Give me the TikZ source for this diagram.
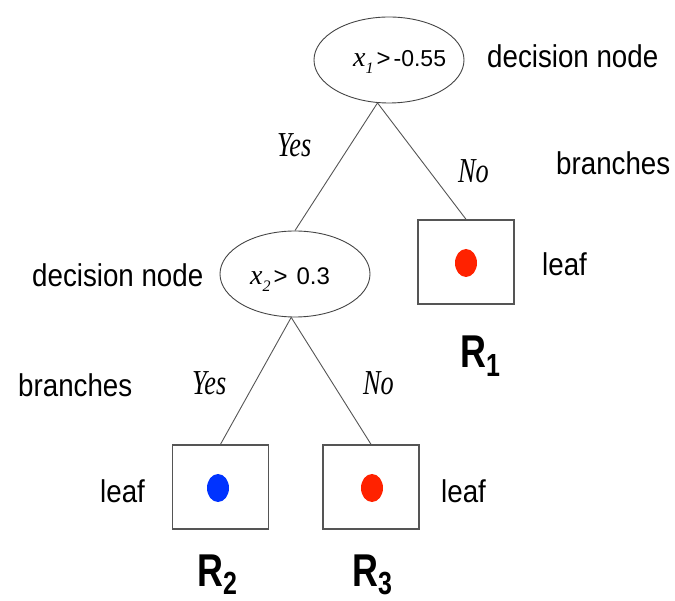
\documentclass[tikz,border=0pt]{standalone}
\usepackage{fontspec}
\usetikzlibrary{shapes.geometric}
\newfontfamily\lblfont{Liberation Sans}[FakeStretch=0.88]
\newfontfamily\plainsans{Liberation Sans}
\newfontfamily\rfont{Liberation Sans}[FakeStretch=0.78]
\newfontfamily\sitfont{Liberation Serif}[FakeStretch=0.75]
\newfontfamily\mathserif{Liberation Serif}
\definecolor{dotred}{HTML}{FF2200}
\definecolor{dotblue}{HTML}{0033FF}
\definecolor{edgegrey}{HTML}{555555}
\begin{document}
\begin{tikzpicture}[x=1pt,y=-1pt,
  lbl/.style={inner sep=0pt, anchor=base west, font=\lblfont\fontsize{31.5}{36}\selectfont},
  yn/.style={inner sep=0pt, anchor=base west, font=\sitfont\itshape\fontsize{35}{40}\selectfont},
  rlbl/.style={inner sep=0pt, anchor=base west, font=\rfont\bfseries\fontsize{46}{50}\selectfont},
  math/.style={inner sep=0pt, anchor=base west},
  decision/.style={ellipse, draw=edgegrey!80!black, line width=0.9pt, minimum width=150pt, minimum height=86pt, inner sep=0pt},
  leafbox/.style={rectangle, draw=edgegrey, line width=1.4pt, minimum width=96pt, minimum height=84pt, inner sep=0pt},
  dot/.style={ellipse, inner sep=0pt, minimum width=22pt, minimum height=28pt},
  branch/.style={draw=edgegrey, line width=0.9pt}
]
\useasboundingbox (0,0) rectangle (675,601);

% decision nodes
\node[decision] (d1) at (389,60) {};
\node[decision] (d2) at (295,274) {};

% leaf boxes
\node[leafbox] (b1) at (466,262) {};
\node[leafbox] (b2) at (220.5,487) {};
\node[leafbox] (b3) at (371,487) {};

% dots
\node[dot, fill=dotred] (p1) at (466,263) {};
\node[dot, fill=dotblue] (p2) at (218,488) {};
\node[dot, fill=dotred] (p3) at (372,488) {};

% branches
\draw[branch] (d1.255) -- (d2.north);
\draw[branch] (d1.255) -- (b1.north);
\draw[branch] (d2.265) -- (b2.north);
\draw[branch] (d2.265) -- (b3.north);

% condition texts
\node[math] (c1) at (353,67) {{\mathserif\itshape\fontsize{28}{30}\selectfont x}\raisebox{-7pt}{\mathserif\itshape\fontsize{16}{18}\selectfont 1}\hspace{3pt}{\plainsans\fontsize{24}{28}\selectfont >}\hspace{3pt}{\plainsans\fontsize{23}{26}\selectfont -0.55}};
\node[math] (c2) at (250,285) {{\mathserif\itshape\fontsize{28}{30}\selectfont x}\raisebox{-7pt}{\mathserif\itshape\fontsize{16}{18}\selectfont 2}\hspace{3pt}{\plainsans\fontsize{24}{28}\selectfont >}\hspace{9pt}{\plainsans\fontsize{24}{26}\selectfont 0.3}};

% labels
\node[lbl] (t1) at (487,68) {decision node};
\node[lbl] (t2) at (32,287) {decision node};
\node[lbl] (t3) at (556,175) {branches};
\node[lbl] (t4) at (18,397) {branches};
\node[lbl] (t5) at (542,276) {leaf};
\node[lbl] (t6) at (100,502) {leaf};
\node[lbl] (t7) at (441,502) {leaf};

% yes / no
\node[yn] (y1) at (277,157) {Yes};
\node[yn] (n1) at (458,183) {No};
\node[yn] (y2) at (192,395) {Yes};
\node[yn] (n2) at (363,395) {No};

% region labels
\node[rlbl] (r1) at (460,368) {R\raisebox{-9pt}{\fontsize{32}{34}\selectfont 1}};
\node[rlbl] (r2) at (197,586) {R\raisebox{-8pt}{\fontsize{32}{34}\selectfont 2}};
\node[rlbl] (r3) at (352,586) {R\raisebox{-8pt}{\fontsize{32}{34}\selectfont 3}};
\end{tikzpicture}
\end{document}
